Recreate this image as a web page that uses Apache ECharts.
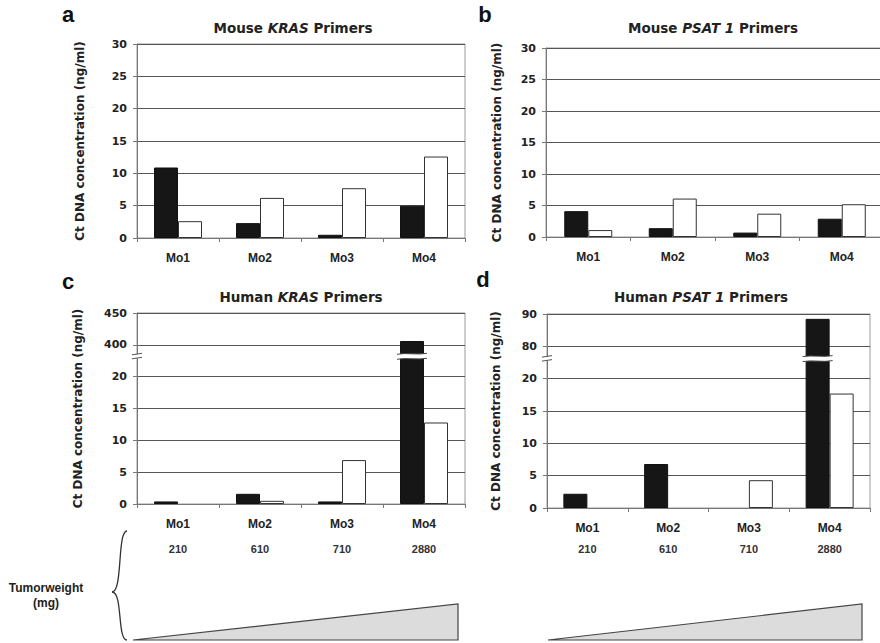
<!DOCTYPE html>
<html><head><meta charset="utf-8">
<script src="https://cdn.jsdelivr.net/npm/echarts@6/dist/echarts.min.js"></script>
<style>html,body{margin:0;padding:0;background:#fff}#c{width:880px;height:643px}</style>
</head><body><div id="c"></div>
<script>
// ---- data ----
const categories = ['Mo1', 'Mo2', 'Mo3', 'Mo4'];
const mouseKrasBlack = [10.9, 2.3, 0.5, 5.0];
const mouseKrasWhite = [2.6, 6.2, 7.7, 12.6];
const mousePsatBlack = [4.1, 1.4, 0.7, 2.9];
const mousePsatWhite = [1.1, 6.1, 3.7, 5.2];
const humanKrasBlack = [0.4, 1.6, 0.4, 406];
const humanKrasWhite = [0, 0.5, 6.9, 12.8];
const humanPsatBlack = [2.2, 6.8, 0, 88.5];
const humanPsatWhite = [0, 0, 4.3, 17.7];
const tumorWeights = ['210', '610', '710', '2880'];
const mouseTickLabels = ['0', '5', '10', '15', '20', '25', '30'];
const humanKrasTickLabels = ['0', '5', '10', '15', '20', '400', '450'];
const humanPsatTickLabels = ['0', '5', '10', '15', '20', '80', '90'];
// broken-axis settings: values above the break are drawn from base, one unit = step
const krasBreak = { base: 400, step: 10, at: 23.2 };
const psatBreak = { base: 80, step: 2, at: 23.1 };

const FONT = '"DejaVu Sans", "Liberation Sans", sans-serif';
const FONT2 = '"Liberation Sans", Arial, sans-serif';
const TXT = '#222';

function mapBroken(v, br) {
  return v <= 22 ? v : 25 + (v - br.base) / br.step;
}

const grids = [
  { left: 137, top: 44, width: 328, height: 194 },
  { left: 546, top: 48, width: 338, height: 189 },
  { left: 137, top: 313, width: 328, height: 191 },
  { left: 547, top: 314, width: 323, height: 194 }
];
const yNameGap = [51, 43, 53, 45];
const tickSets = [mouseTickLabels, mouseTickLabels, humanKrasTickLabels, humanPsatTickLabels];

const chart = echarts.init(document.getElementById('c'), null, { renderer: 'svg' });

const option = {
  animation: false,
  backgroundColor: '#fff',
  grid: grids.map(g => Object.assign({
    show: true, borderColor: '#9a9a9a', borderWidth: 1, backgroundColor: 'transparent',
    containLabel: false, outerBoundsMode: 'none'
  }, g)),
  xAxis: [0, 1, 2, 3].map(i => ({
    type: 'category', gridIndex: i, data: categories,
    axisLine: { show: true, lineStyle: { color: '#777', width: 1 } },
    axisTick: { show: true, length: 4, lineStyle: { color: '#777' } },
    axisLabel: { color: TXT, fontWeight: 'bold', fontSize: 12, fontFamily: FONT2, margin: 14 },
    splitLine: { show: false }
  })).concat([2, 3].map(i => ({
    type: 'category', gridIndex: i, data: tumorWeights, position: 'bottom',
    axisLine: { show: false }, axisTick: { show: false },
    axisLabel: { color: '#333', fontWeight: 'bold', fontSize: 11, fontFamily: FONT2, margin: i === 2 ? 39 : 35 },
    splitLine: { show: false }
  }))),
  yAxis: [0, 1, 2, 3].map(i => ({
    type: 'value', gridIndex: i, min: 0, max: 30, interval: 5,
    name: 'Ct DNA concentration (ng/ml)', nameLocation: 'middle', nameGap: yNameGap[i],
    nameTextStyle: { color: TXT, fontWeight: 'bold', fontSize: 12, fontFamily: FONT },
    axisLine: { show: true, lineStyle: { color: '#777', width: 1 } },
    axisTick: { show: true, length: 4, lineStyle: { color: '#777' } },
    axisLabel: {
      color: TXT, fontWeight: 'bold', fontSize: 11, fontFamily: FONT, margin: 10,
      formatter: v => tickSets[i][Math.round(v / 5)]
    },
    splitLine: { show: true, lineStyle: { color: '#555', width: 1.2 } }
  })),
  series: []
};

const blackStyle = { color: '#161616', borderColor: '#111', borderWidth: 1 };
const whiteStyle = { color: '#ffffff', borderColor: '#333', borderWidth: 1 };
const panels = [
  [mouseKrasBlack, mouseKrasWhite, null],
  [mousePsatBlack, mousePsatWhite, null],
  [humanKrasBlack, humanKrasWhite, krasBreak],
  [humanPsatBlack, humanPsatWhite, psatBreak]
];
panels.forEach(([blk, wht, br], i) => {
  const conv = arr => arr.map(v => v === 0 ? '-' : (br ? mapBroken(v, br) : v));
  option.series.push({
    type: 'bar', xAxisIndex: i, yAxisIndex: i, data: conv(blk),
    barWidth: 24, barGap: '0%', itemStyle: blackStyle, silent: true
  });
  option.series.push({
    type: 'bar', xAxisIndex: i, yAxisIndex: i, data: conv(wht),
    barWidth: 24, barGap: '0%', itemStyle: whiteStyle, silent: true
  });
});

const rich = { i: { fontStyle: 'italic', fontWeight: 'bold', fontSize: 13.5, fontFamily: FONT, fill: TXT } };
function title(text, x, y) {
  return { type: 'text', x: x, y: y, silent: true, style: {
    text: text, align: 'center', verticalAlign: 'middle', fill: TXT,
    font: 'bold 13.5px ' + FONT, rich: rich } };
}
function letter(t, x, y) {
  return { type: 'text', x: x, y: y, silent: true, style: {
    text: t, align: 'center', verticalAlign: 'middle', fill: '#111', font: 'bold 22px ' + FONT2 } };
}
const staticGraphics = [
  letter('a', 68, 14), letter('b', 485, 14), letter('c', 68, 281), letter('d', 483, 279),
  title('Mouse {i|KRAS} Primers', 293, 28),
  title('Mouse {i|PSAT 1} Primers', 713, 28),
  title('Human {i|KRAS} Primers', 301, 297),
  title('Human {i|PSAT 1} Primers', 701, 297),
  { type: 'text', x: 46, y: 588, silent: true, style: { text: 'Tumorweight', align: 'center', verticalAlign: 'middle', fill: '#222', font: 'bold 12px ' + FONT2 } },
  { type: 'text', x: 46, y: 603, silent: true, style: { text: '(mg)', align: 'center', verticalAlign: 'middle', fill: '#222', font: 'bold 12px ' + FONT2 } },
  { type: 'bezierCurve', silent: true, shape: { x1: 127, y1: 531, cpx1: 117, cpy1: 531, cpx2: 123, cpy2: 592, x2: 112, y2: 592 }, style: { stroke: '#333', lineWidth: 1.3, fill: null } },
  { type: 'bezierCurve', silent: true, shape: { x1: 112, y1: 592, cpx1: 123, cpy1: 592, cpx2: 117, cpy2: 640, x2: 127, y2: 640 }, style: { stroke: '#333', lineWidth: 1.3, fill: null } },
  { type: 'polygon', silent: true, shape: { points: [[133, 640], [458, 604], [458, 640]] }, style: { fill: '#dcdcdc', stroke: '#444', lineWidth: 1.2 } },
  { type: 'polygon', silent: true, shape: { points: [[548, 640], [862, 604], [862, 640]] }, style: { fill: '#dcdcdc', stroke: '#444', lineWidth: 1.2 } }
];
option.graphic = staticGraphics;
chart.setOption(option);

// break marks on the broken axes, placed through the chart's own scales
const breakGraphics = [];
[[2, krasBreak], [3, psatBreak]].forEach(([i, br]) => {
  const y = chart.convertToPixel({ yAxisIndex: i }, br.at);
  const ax = grids[i].left;
  const cx = chart.convertToPixel({ xAxisIndex: i }, 'Mo4');
  breakGraphics.push(
    { type: 'rect', z: 100, silent: true, shape: { x: ax - 5, y: y - 2, width: 10, height: 4 }, style: { fill: '#fff' } },
    { type: 'line', z: 101, silent: true, shape: { x1: ax - 5, y1: y - 1.5, x2: ax + 5, y2: y - 3 }, style: { stroke: '#555', lineWidth: 1 } },
    { type: 'line', z: 101, silent: true, shape: { x1: ax - 5, y1: y + 2.5, x2: ax + 5, y2: y + 1 }, style: { stroke: '#555', lineWidth: 1 } },
    { type: 'rect', z: 100, silent: true, shape: { x: cx - 27, y: y - 2.5, width: 30, height: 5 }, style: { fill: '#fff' } },
    { type: 'bezierCurve', z: 101, silent: true, shape: { x1: cx - 27, y1: y - 2, cpx1: cx - 17, cpy1: y - 4, cpx2: cx - 7, cpy2: y - 1, x2: cx + 3, y2: y - 3 }, style: { stroke: '#444', lineWidth: 1, fill: null } },
    { type: 'bezierCurve', z: 101, silent: true, shape: { x1: cx - 27, y1: y + 3, cpx1: cx - 17, cpy1: y + 1, cpx2: cx - 7, cpy2: y + 4, x2: cx + 3, y2: y + 2 }, style: { stroke: '#444', lineWidth: 1, fill: null } }
  );
});
chart.setOption({ graphic: staticGraphics.concat(breakGraphics) });
</script>
</body></html>
